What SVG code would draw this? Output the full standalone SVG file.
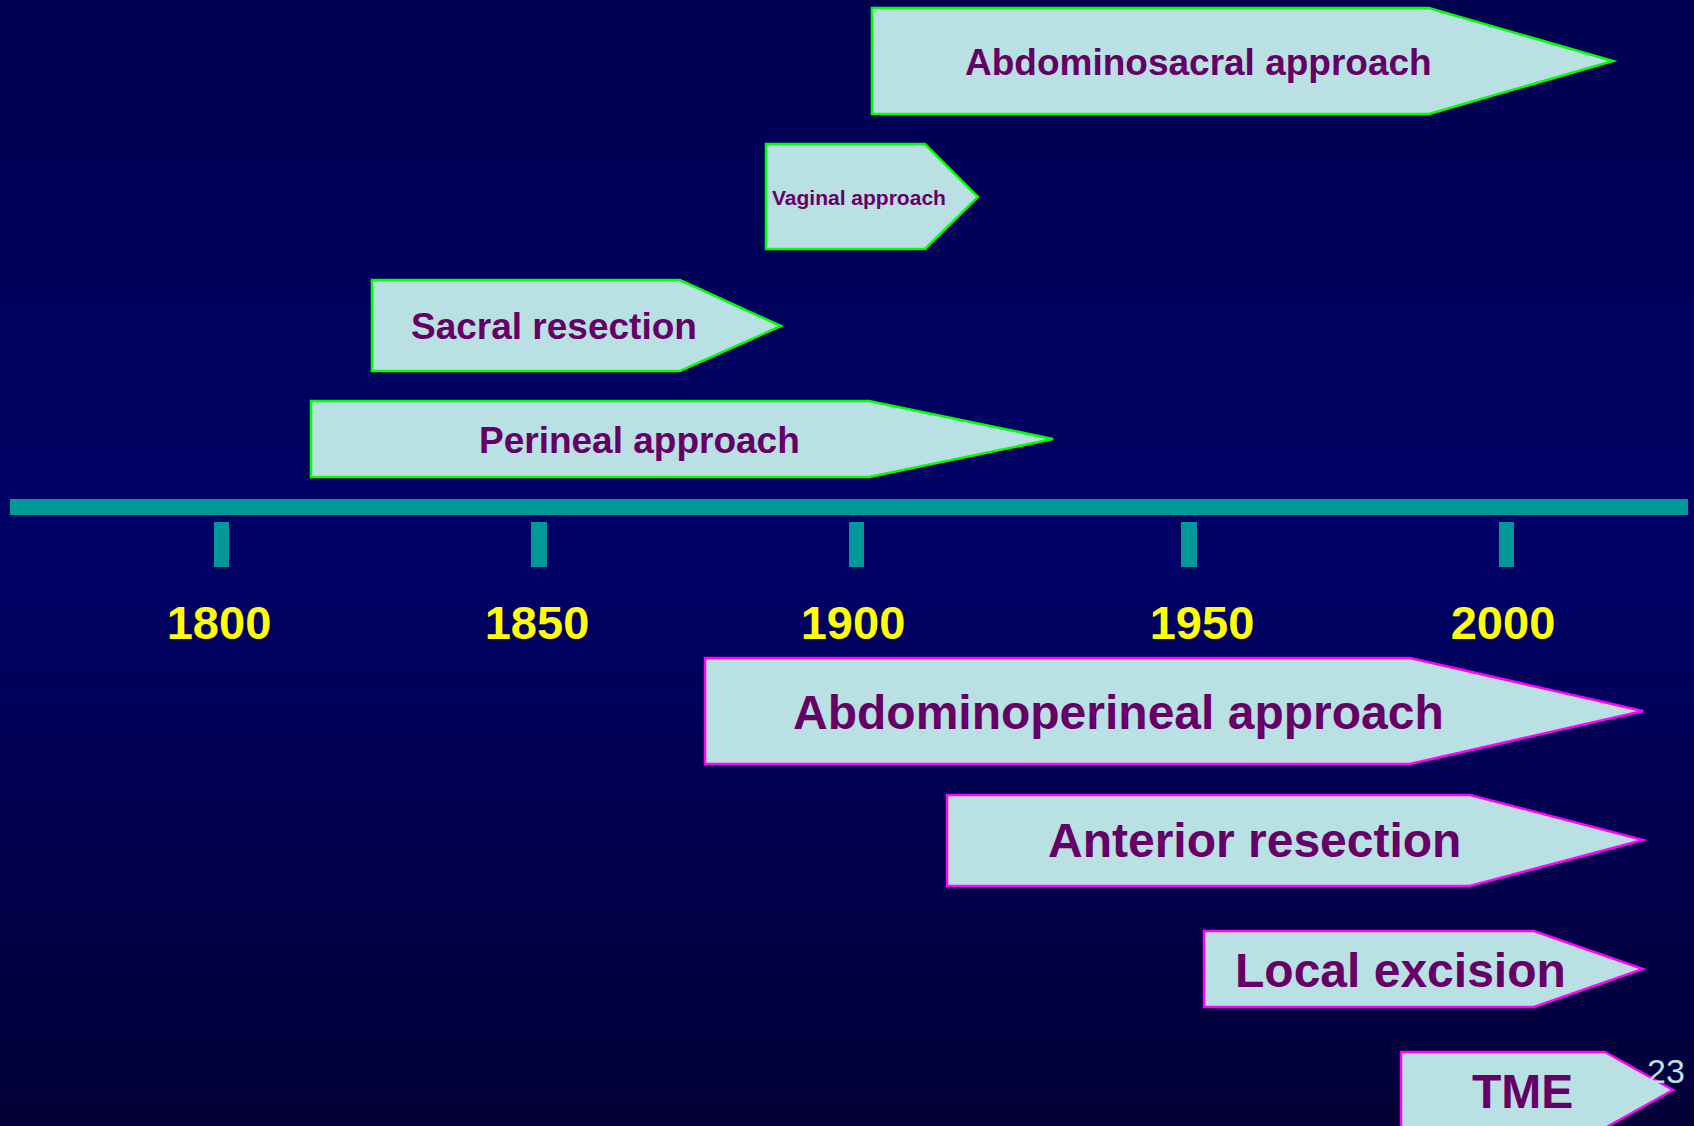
<svg xmlns="http://www.w3.org/2000/svg" width="1694" height="1126" viewBox="0 0 1694 1126">
<defs>
<linearGradient id="bg" x1="0" y1="0" x2="0" y2="1">
<stop offset="0" stop-color="#000052"/>
<stop offset="0.5" stop-color="#000066"/>
<stop offset="1" stop-color="#030036"/>
</linearGradient>
<style>
.box{fill:#b9e0e3;stroke-width:2.5;stroke-linejoin:miter}
.g{stroke:#00ff00}
.m{stroke:#ff00ff}
.lbl{font-family:"Liberation Sans",Arial,sans-serif;font-weight:bold;fill:#660066}
.yr{font-family:"Liberation Sans",Arial,sans-serif;font-weight:bold;fill:#ffff00;font-size:47px;text-anchor:middle}
.tick{fill:#009999}
</style>
</defs>
<rect width="1694" height="1126" fill="url(#bg)"/>
<g id="timeline">
<rect class="tick" x="10" y="499" width="1678" height="16"/>
<rect class="tick" x="214" y="522" width="15" height="45"/>
<rect class="tick" x="531" y="522" width="16" height="45"/>
<rect class="tick" x="849" y="522" width="15" height="45"/>
<rect class="tick" x="1181" y="522" width="16" height="45"/>
<rect class="tick" x="1499" y="522" width="15" height="45"/>
<text class="yr" x="219" y="639">1800</text>
<text class="yr" x="537" y="639">1850</text>
<text class="yr" x="853" y="639">1900</text>
<text class="yr" x="1202" y="639">1950</text>
<text class="yr" x="1503" y="639">2000</text>
</g>
<g id="abdominosacral">
<polygon class="box g" points="872,8 1429,8 1613,61 1429,114 872,114"/>
<text class="lbl" x="965" y="75" font-size="37">Abdominosacral approach</text>
</g>
<g id="vaginal">
<polygon class="box g" points="766,144 925,144 978,197 925,249 766,249"/>
<text class="lbl" x="772" y="205" font-size="21">Vaginal approach</text>
</g>
<g id="sacral">
<polygon class="box g" points="372,280 680,280 781,326 680,371 372,371"/>
<text class="lbl" x="411" y="339" font-size="37">Sacral resection</text>
</g>
<g id="perineal">
<polygon class="box g" points="311,401 869,401 1053,439 869,477 311,477"/>
<text class="lbl" x="479" y="453" font-size="37">Perineal approach</text>
</g>
<g id="abdominoperineal">
<polygon class="box m" points="705,658 1410,658 1643,711 1410,764 705,764"/>
<text class="lbl" x="793" y="729" font-size="48">Abdominoperineal approach</text>
</g>
<g id="anterior">
<polygon class="box m" points="947,795 1470,795 1643,840 1470,886 947,886"/>
<text class="lbl" x="1048" y="857" font-size="48">Anterior resection</text>
</g>
<g id="local">
<polygon class="box m" points="1204,931 1534,931 1643,969 1534,1007 1204,1007"/>
<text class="lbl" x="1235" y="987" font-size="48">Local excision</text>
</g>
<g id="tme">
<polygon class="box m" points="1401,1052 1605,1052 1673,1090 1605,1128 1401,1128"/>
<text class="lbl" x="1472" y="1108" font-size="48">TME</text>
</g>
<text x="1647" y="1083" font-family="'Liberation Sans',Arial,sans-serif" font-size="34" fill="#c0dde3">23</text>
</svg>
